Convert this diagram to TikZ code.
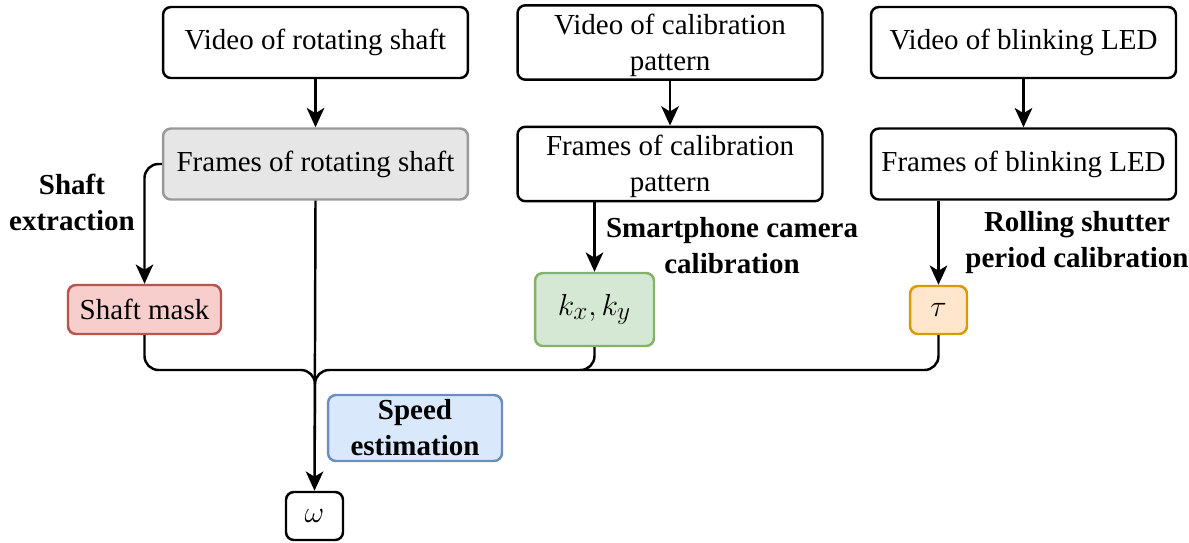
\documentclass[tikz,border=0pt]{standalone}
\usepackage{fontspec}
\setmainfont{Liberation Serif}
\usetikzlibrary{arrows.meta}

\definecolor{grayfill}{HTML}{E6E6E6}
\definecolor{grayline}{HTML}{999999}
\definecolor{redfill}{HTML}{F8CECC}
\definecolor{redline}{HTML}{B85450}
\definecolor{greenfill}{HTML}{D5E8D4}
\definecolor{greenline}{HTML}{82B366}
\definecolor{orangefill}{HTML}{FFE6CC}
\definecolor{orangeline}{HTML}{D79B00}
\definecolor{bluefill}{HTML}{DAE8FC}
\definecolor{blueline}{HTML}{6C8EBF}

\begin{document}
\begin{tikzpicture}[x=0.02cm, y=-0.02cm, line width=1.4pt,
	box/.style={draw, rounded corners=4.5pt, align=center, inner sep=2pt, font=\fontsize{16.5}{20.5}\selectfont},
	wide/.style={box, minimum width=6.1cm, minimum height=1.42cm},
	small/.style={box, minimum width=1.14cm, minimum height=0.96cm, font=\fontsize{19}{22}\selectfont},
	lbl/.style={align=center, font=\fontsize{16.5}{20.5}\selectfont\bfseries},
	arr/.style={-{Stealth[length=11pt, width=10pt, inset=3pt]}},
	link/.style={rounded corners=8pt}]
	\useasboundingbox (0, 0) rectangle (1189, 542);
	\path (315.5, 42.5) node[wide] (v1){Video of rotating shaft}
	(315.5, 164) node[wide, fill=grayfill, draw=grayline] (f1){Frames of rotating shaft}
	(670, 42.5) node[wide] (v2){\strut Video of calibration\\pattern}
	(670, 164) node[wide] (f2){\strut Frames of calibration\\pattern}
	(1023.5, 42.5) node[wide] (v3){Video of blinking LED}
	(1023.5, 164) node[wide] (f3){Frames of blinking LED}
	(144.5, 309.5) node[box, minimum width=3.06cm, minimum height=0.98cm, fill=redfill, draw=redline] (mask){Shaft mask}
	(594.5, 309.5) node[box, minimum width=2.38cm, minimum height=1.46cm, fill=greenfill, draw=greenline, font=\fontsize{19}{22}\selectfont] (k){$k_x, k_y$}
	(938.5, 310) node[small, fill=orangefill, draw=orangeline] (tau){$\tau$}
	(415, 428) node[box, minimum width=3.48cm, minimum height=1.32cm, fill=bluefill, draw=blueline, font=\fontsize{16.5}{20.5}\selectfont\bfseries] (speed){Speed\\estimation}
	(314.5, 516) node[small] (omega){$\omega$};
	
	\path (72, 202) node[lbl] (ext){Shaft\\extraction}
	(732, 246) node[lbl] (cam){Smartphone camera\\calibration}
	(1077, 243) node[lbl] (shut){Rolling shutter\\period calibration};
	
	\coordinate (mj) at (315, 370);
	\coordinate (mend) at (315, 440);
	
	\draw[arr] (v1) -- (f1);
	\draw[arr] (v2) -- (f2);
	\draw[arr] (v3) -- (f3);
	\draw[arr, link] (f1.west) -| (mask.north);
	\draw[arr] (f2.south -| k.north) -- (k.north);
	\draw[arr] (f3.south -| tau.north) -- (tau.north);
	\draw[arr] (f1.south) -- (omega.north);
	\draw[link] (mask.south) |- (mj) -- (mend)
	(k.south) |- (mj) -- (mend)
	(tau.south) |- (mj) -- (mend);
\end{tikzpicture}
\end{document}
